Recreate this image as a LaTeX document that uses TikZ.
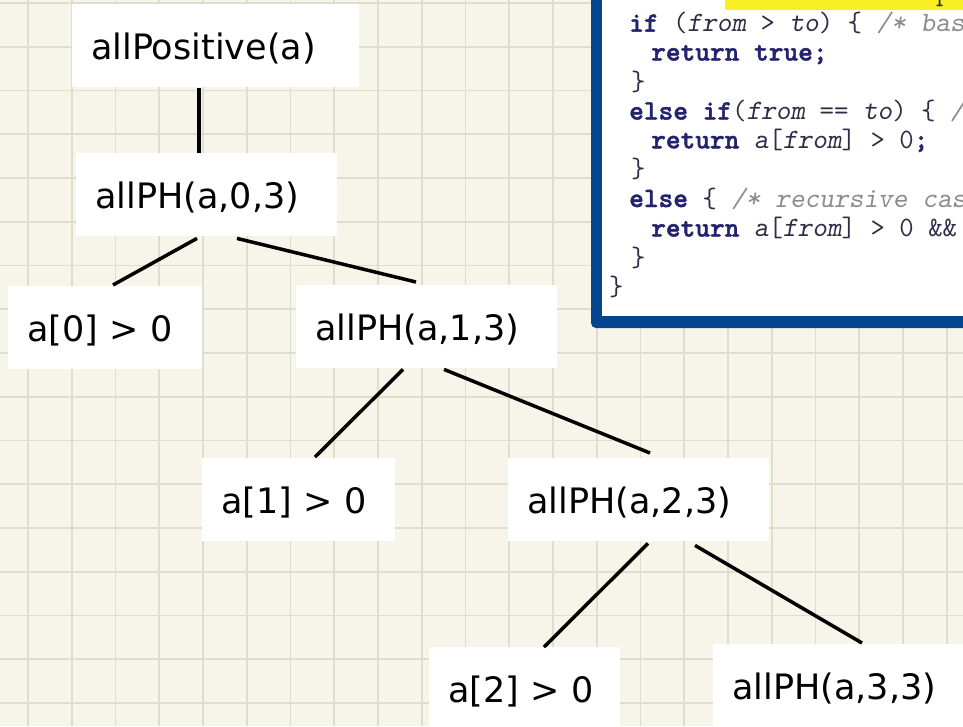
\documentclass[tikz,border=0pt]{standalone}
\usepackage{fontspec}
\newfontfamily\treefont{DejaVu Sans}
\newfontfamily\kwfont{lmmonolt10-bold}[Extension=.otf, FakeBold=1.6]
\definecolor{paper}{RGB}{247,245,233}
\definecolor{gridc}{RGB}{222,222,207}
\definecolor{framec}{RGB}{3,70,143}
\definecolor{hilite}{RGB}{248,240,36}
\definecolor{kwc}{RGB}{36,36,110}
\definecolor{cmtc}{RGB}{140,140,140}
\definecolor{codec}{RGB}{45,45,70}
% code token helpers
\newcommand{\kwd}[1]{{\kwfont\fontsize{28}{30}\selectfont\color{kwc}#1}}
\newcommand{\ident}[1]{{\slshape #1}}
\newcommand{\cmnt}[1]{{\slshape\color{cmtc}#1}}
\tikzset{
  gridline/.style={draw=gridc, line width=1.6pt},
  tbox/.style={fill=white, anchor=north west, inner xsep=19pt, inner ysep=0pt,
    text height=55pt, text depth=28pt, align=left,
    font=\treefont\fontsize{35}{40}\selectfont},
  codeline/.style={anchor=base west, inner sep=0pt, text=codec,
    font=\ttfamily\fontsize{28}{30}\selectfont\frenchspacing},
  link/.style={draw=black, line width=3.5pt},
}
\begin{document}
\begin{tikzpicture}[x=1pt, y=-1pt]
\useasboundingbox (0,0) rectangle (963,726);
\clip (0,0) rectangle (963,726);
% squared paper
\fill[paper] (0,0) rectangle (963,726);
\foreach \i in {0,...,21} \draw[gridline] ({28+43.75*\i},0) -- ({28+43.75*\i},726);
\foreach \j in {0,...,16} \draw[gridline] (0,{3+43.75*\j}) -- (963,{3+43.75*\j});

% code panel
\fill[framec, rounded corners=5pt] (591,-40) rectangle (1010,328);
\fill[white] (602,-40) rectangle (1010,316);
\fill[hilite] (725,-40) rectangle (1010,10);
\node[codeline] (sig) at (936,0) {p};
\node[codeline] (c1) at (629,31.7) {\kwd{if} (\ident{from} > \ident{to}) \{ \cmnt{/* bas}};
\node[codeline] (c2) at (651,60.5) {\kwd{return true;}};
\node[codeline] (c3) at (631,90) {\}};
\node[codeline] (c4) at (629,119.5) {\kwd{else if}(\ident{from} == \ident{to}) \{ \cmnt{/}};
\node[codeline] (c5) at (651,148.3) {\kwd{return} \ident{a}[\ident{from}] > 0\kwd{;}};
\node[codeline] (c6) at (631,177.5) {\}};
\node[codeline] (c7) at (629,207) {\kwd{else} \{ \cmnt{/* recursive cas}};
\node[codeline] (c8) at (651,236.5) {\kwd{return} \ident{a}[\ident{from}] > 0 \&\&};
\node[codeline] (c9) at (631,266) {\}};
\node[codeline] (c10) at (609,295) {\}};

% recursion tree
\node[tbox, text width=249pt] (top) at (72,4)   {allPositive(a)};
\node[tbox, text width=223pt] (p03) at (76,153) {allPH(a,0,3)};
\node[tbox, text width=156pt] (a0)  at (8,286)  {a[0] > 0};
\node[tbox, text width=223pt] (p13) at (296,285) {allPH(a,1,3)};
\node[tbox, text width=155pt] (a1)  at (202,458) {a[1] > 0};
\node[tbox, text width=223pt] (p23) at (508,458) {allPH(a,2,3)};
\node[tbox, text width=153pt] (a2)  at (429,647) {a[2] > 0};
\node[tbox, text width=223pt] (p33) at (713,644) {allPH(a,3,3)};

\draw[link] ([xshift=127pt,yshift=-1pt]top.south west) -- ([xshift=123pt]p03.north west);
\draw[link] ([xshift=121pt,yshift=-2pt]p03.south west) -- ([xshift=105pt,yshift=1pt]a0.north west);
\draw[link] ([xshift=161pt,yshift=-2pt]p03.south west) -- ([xshift=120pt,yshift=3pt]p13.north west);
\draw[link] ([xshift=107pt,yshift=-1pt]p13.south west) -- ([xshift=113pt,yshift=1pt]a1.north west);
\draw[link] ([xshift=148pt,yshift=-1pt]p13.south west) -- ([xshift=142pt,yshift=5pt]p23.north west);
\draw[link] ([xshift=140pt,yshift=-2pt]p23.south west) -- ([xshift=115pt]a2.north west);
\draw[link] ([xshift=187pt,yshift=-4pt]p23.south west) -- ([xshift=149pt,yshift=1pt]p33.north west);
\end{tikzpicture}
\end{document}
